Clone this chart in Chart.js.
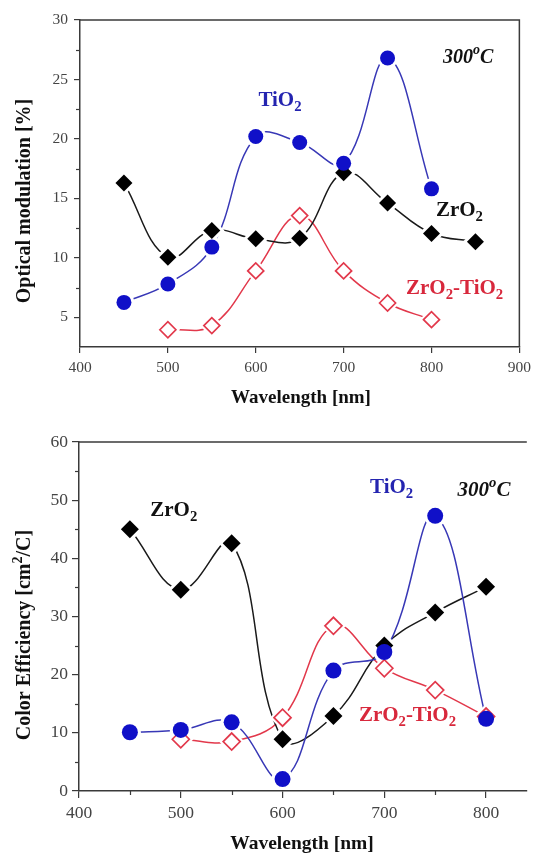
<!DOCTYPE html>
<html lang="en">
<head>
<meta charset="UTF-8">
<title>Optical modulation / Color efficiency</title>
<script src="https://cdn.jsdelivr.net/npm/chart.js@4.4.0/dist/chart.umd.min.js"></script>
<style>
  body { margin: 0; background: #fff; }
  .panel { position: absolute; left: 0; width: 537px; }
  #top { top: 0; height: 420px; }
  #bottom { top: 420px; height: 436px; }
</style>
</head>
<body>
<div class="panel" id="top"><canvas id="omChart" width="537" height="420"></canvas></div>
<div class="panel" id="bottom"><canvas id="ceChart" width="537" height="436"></canvas></div>
<script>
// top panel: optical modulation [%], 300 C
const omZrX = [450, 500, 550, 600, 650, 700, 750, 800, 850];
const omZr = [16.3, 10.05, 12.3, 11.6, 11.65, 17.15, 14.6, 12.05, 11.35];
const omTiX = [450, 500, 550, 600, 650, 700, 750, 800];
const omTi = [6.25, 7.8, 10.9, 20.2, 19.7, 17.95, 26.8, 15.8];
const omMixX = [500, 550, 600, 650, 700, 750, 800];
const omMix = [3.95, 4.3, 8.9, 13.55, 8.9, 6.2, 4.8];
const omXTicks = [400, 500, 600, 700, 800, 900];
const omYTicks = [5, 10, 15, 20, 25, 30];
const omYMinor = [7.5, 12.5, 17.5, 22.5, 27.5];

// bottom panel: color efficiency [cm2/C]
const ceX = [450, 500, 550, 600, 650, 700, 750, 800];
const ceZr = [45.0, 34.6, 42.6, 8.9, 12.9, 25.0, 30.7, 35.1];
const ceTi = [10.1, 10.5, 11.8, 2.05, 20.7, 23.9, 47.3, 12.4];
const ceMixX = [500, 550, 600, 650, 700, 750, 800];
const ceMix = [8.9, 8.5, 12.6, 28.4, 21.1, 17.35, 12.8];
const ceXTicks = [400, 500, 600, 700, 800];
const ceXMinor = [450, 550, 650, 750];
const ceYTicks = [0, 10, 20, 30, 40, 50, 60];
const ceYMinor = [5, 15, 25, 35, 45, 55];

const SERIF = '"Liberation Serif", "Times New Roman", serif';
const AXIS = '#3a3a3a';
const TICK = '#444';
const BLUE = '#1010c8', BLUE_LINE = '#3838b6', BLUE_TXT = '#2424b0';
const RED = '#e2384b', RED_TXT = '#d8283c';
const GAP = 3;

Chart.defaults.font.family = SERIF;

// draws "ZrO_2" / "300^oC" style text, _x = subscript, ^x = superscript
function richText(ctx, str, px, py, o) {
  const size = o.size;
  const parts = [];
  for (let i = 0; i < str.length; i++) {
    const c = str[i];
    if ((c === '_' || c === '^') && i + 1 < str.length) {
      parts.push({ t: str[i + 1], k: c });
      i++;
    } else if (parts.length && parts[parts.length - 1].k === '') {
      parts[parts.length - 1].t += c;
    } else {
      parts.push({ t: c, k: '' });
    }
  }
  const font = k => `${o.style || 'normal'} bold ${k ? size * 0.7 : size}px ${SERIF}`;
  let w = 0;
  parts.forEach(p => { ctx.font = font(p.k); p.w = ctx.measureText(p.t).width; w += p.w; });
  ctx.save();
  ctx.translate(px, py);
  if (o.rotate) ctx.rotate(-Math.PI / 2);
  ctx.fillStyle = o.color || '#111';
  ctx.textBaseline = 'alphabetic';
  ctx.textAlign = 'left';
  let cx = o.align === 'center' ? -w / 2 : 0;
  parts.forEach(p => {
    ctx.font = font(p.k);
    const dy = p.k === '_' ? size * 0.25 : p.k === '^' ? -size * 0.42 : 0;
    ctx.fillText(p.t, cx, dy);
    cx += p.w;
  });
  ctx.restore();
}

const decor = {
  id: 'decor',
  beforeDraw(chart) {
    const ctx = chart.ctx;
    ctx.save();
    ctx.fillStyle = '#fff';
    ctx.fillRect(0, 0, chart.width, chart.height);
    ctx.restore();
  },
  // white gap round the markers, then markers on top again
  afterDatasetsDraw(chart) {
    const ctx = chart.ctx;
    const metas = chart.getSortedVisibleDatasetMetas().slice().reverse();
    ctx.save();
    ctx.fillStyle = '#fff';
    metas.forEach(m => m.data.forEach(p => {
      const r = p.options.radius;
      ctx.beginPath();
      if (p.options.pointStyle === 'circle') {
        ctx.arc(p.x, p.y, r + GAP, 0, Math.PI * 2);
      } else {
        const d = r + GAP * 1.4;
        ctx.moveTo(p.x, p.y - d); ctx.lineTo(p.x + d, p.y);
        ctx.lineTo(p.x, p.y + d); ctx.lineTo(p.x - d, p.y);
        ctx.closePath();
      }
      ctx.fill();
    }));
    ctx.restore();
    metas.forEach(m => m.data.forEach(p => p.draw(ctx, chart.chartArea)));
  },
  afterDraw(chart, args, o) {
    const { ctx, chartArea: a, scales: { x, y } } = chart;
    ctx.save();
    ctx.strokeStyle = AXIS;
    ctx.lineWidth = 1.5;
    ctx.beginPath();
    ctx.moveTo(a.left, a.top);
    ctx.lineTo(a.right, a.top);
    if (o.rightBorder) ctx.lineTo(a.right, a.bottom);
    ctx.stroke();
    ctx.lineWidth = 1.2;
    (o.yMinor || []).forEach(v => {
      const py = Math.round(y.getPixelForValue(v)) + 0.5;
      ctx.beginPath(); ctx.moveTo(a.left, py); ctx.lineTo(a.left - 4, py); ctx.stroke();
    });
    (o.xMinor || []).forEach(v => {
      const px = Math.round(x.getPixelForValue(v)) + 0.5;
      ctx.beginPath(); ctx.moveTo(px, a.bottom); ctx.lineTo(px, a.bottom + 4); ctx.stroke();
    });
    ctx.restore();
    o.labels.forEach(l => richText(ctx, l.text, x.getPixelForValue(l.x), y.getPixelForValue(l.y), l));
    richText(ctx, o.xTitle.text, o.xTitle.px, o.xTitle.py, { size: o.xTitle.size, align: 'center', color: '#111' });
    richText(ctx, o.yTitle.text, o.yTitle.px, o.yTitle.py, { size: o.yTitle.size, align: 'center', rotate: true, color: '#111' });
  }
};

function series(xs, ys, o) {
  return {
    data: xs.map((x, i) => ({ x, y: ys[i] })),
    borderColor: o.line,
    borderWidth: 1.5,
    tension: 0.4,
    fill: false,
    pointStyle: o.style,
    pointRadius: o.r,
    pointBackgroundColor: o.fill,
    pointBorderColor: o.color,
    pointBorderWidth: o.open ? 1.7 : 0
  };
}

function axes(c) {
  const tickFont = { family: SERIF, size: c.tickFont };
  return {
    x: {
      type: 'linear', min: c.xMin, max: c.xMax,
      afterBuildTicks: s => { s.ticks = c.xTicks.map(v => ({ value: v })); },
      afterFit: s => { s.height = c.xHeight; },
      grid: { drawOnChartArea: false, drawTicks: true, tickLength: c.tick, color: AXIS, lineWidth: 1.2 },
      border: { color: AXIS, width: 1.5 },
      ticks: { padding: c.xPad, color: TICK, font: tickFont, maxRotation: 0 }
    },
    y: {
      type: 'linear', min: c.yMin, max: c.yMax,
      afterBuildTicks: s => { s.ticks = c.yTicks.map(v => ({ value: v })); },
      afterFit: s => { s.width = c.yWidth; },
      grid: { drawOnChartArea: false, drawTicks: true, tickLength: c.tick, color: AXIS, lineWidth: 1.2 },
      border: { color: AXIS, width: 1.5 },
      ticks: { padding: c.yPad, color: TICK, font: tickFont }
    }
  };
}

new Chart(document.getElementById('omChart'), {
  type: 'line',
  data: {
    datasets: [
      series(omTiX, omTi, { line: BLUE_LINE, color: BLUE, fill: BLUE, style: 'circle', r: 7.5 }),
      series(omZrX, omZr, { line: '#1a1a1a', color: '#000', fill: '#000', style: 'rectRot', r: 8.5 }),
      series(omMixX, omMix, { line: RED, color: RED, fill: '#fff', style: 'rectRot', r: 8, open: true })
    ]
  },
  options: {
    responsive: false,
    animation: false,
    layout: { padding: { top: 20, right: 17, left: 0, bottom: 0 } },
    scales: axes({ xMin: 400, xMax: 900, xTicks: omXTicks, yMin: 2.5, yMax: 30, yTicks: omYTicks,
      xHeight: 73, yWidth: 80, tick: 6, xPad: 6, yPad: 6, tickFont: 15.5 }),
    plugins: {
      legend: { display: false },
      tooltip: { enabled: false },
      decor: {
        rightBorder: true,
        yMinor: omYMinor,
        labels: [
          { text: '300^oC', x: 813, y: 26.4, size: 20, style: 'italic', color: '#111' },
          { text: 'TiO_2', x: 603, y: 22.8, size: 21, color: BLUE_TXT },
          { text: 'ZrO_2', x: 805, y: 13.5, size: 21, color: '#111' },
          { text: 'ZrO_2-TiO_2', x: 771, y: 6.95, size: 21, color: RED_TXT }
        ],
        xTitle: { text: 'Wavelength [nm]', px: 301, py: 403, size: 19 },
        yTitle: { text: 'Optical modulation [%]', px: 30, py: 201, size: 20 }
      }
    }
  },
  plugins: [decor]
});

new Chart(document.getElementById('ceChart'), {
  type: 'line',
  data: {
    datasets: [
      series(ceX, ceTi, { line: BLUE_LINE, color: BLUE, fill: BLUE, style: 'circle', r: 8 }),
      series(ceX, ceZr, { line: '#1a1a1a', color: '#000', fill: '#000', style: 'rectRot', r: 9 }),
      series(ceMixX, ceMix, { line: RED, color: RED, fill: '#fff', style: 'rectRot', r: 8.5, open: true })
    ]
  },
  options: {
    responsive: false,
    animation: false,
    layout: { padding: { top: 22, right: 0, left: 0, bottom: 0 } },
    scales: axes({ xMin: 400, xMax: 840, xTicks: ceXTicks, yMin: 0, yMax: 60, yTicks: ceYTicks,
      xHeight: 65, yWidth: 79, tick: 7, xPad: 5, yPad: 4, tickFont: 17.5 }),
    plugins: {
      legend: { display: false },
      tooltip: { enabled: false },
      decor: {
        rightBorder: false,
        yMinor: ceYMinor,
        xMinor: ceXMinor,
        labels: [
          { text: 'ZrO_2', x: 470, y: 47.3, size: 21, color: '#111' },
          { text: 'TiO_2', x: 686, y: 51.2, size: 21, color: BLUE_TXT },
          { text: '300^oC', x: 772, y: 50.75, size: 21, style: 'italic', color: '#111' },
          { text: 'ZrO_2-TiO_2', x: 675, y: 12.0, size: 21, color: RED_TXT }
        ],
        xTitle: { text: 'Wavelength [nm]', px: 302, py: 429, size: 19.5 },
        yTitle: { text: 'Color Efficiency [cm^2/C]', px: 30, py: 215, size: 20 }
      }
    }
  },
  plugins: [decor]
});
</script>
</body>
</html>
